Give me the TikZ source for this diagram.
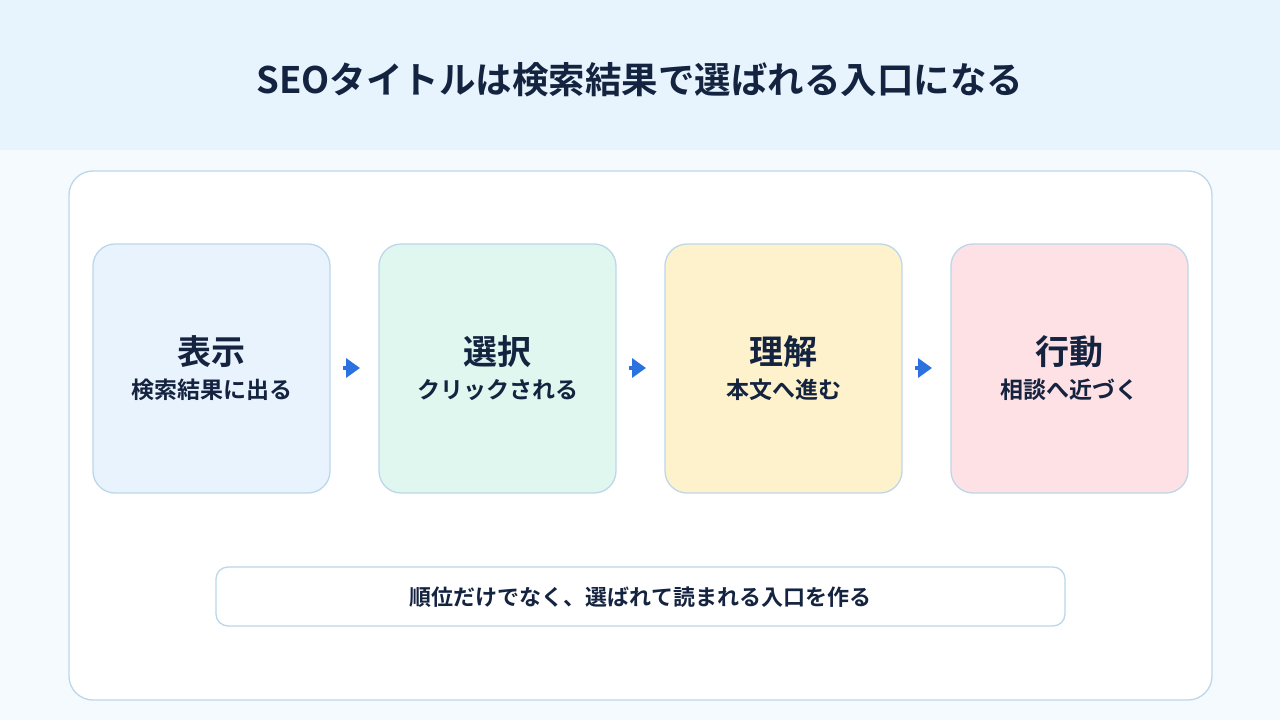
\documentclass[tikz,border=0pt]{standalone}
\usepackage{fontspec}
\setmainfont{Noto Sans CJK JP}[BoldFont={Noto Sans CJK JP Bold}]
\usetikzlibrary{arrows.meta}
\definecolor{headbg}{HTML}{E8F4FD}
\definecolor{pagebg}{HTML}{F5FAFE}
\definecolor{edge}{HTML}{BCD7EA}
\definecolor{ink}{HTML}{14233F}
\definecolor{cblue}{HTML}{E8F3FD}
\definecolor{cgreen}{HTML}{E0F7EF}
\definecolor{cyellow}{HTML}{FEF2CC}
\definecolor{cpink}{HTML}{FEE1E4}
\definecolor{arrowblue}{HTML}{2B72E0}
\tikzset{
  card/.style={draw=edge, line width=1.3pt, rounded corners=22pt, minimum width=237pt, minimum height=249pt, inner sep=0pt},
  cardtitle/.style={text=ink, font=\bfseries\fontsize{34}{40}\selectfont, inner sep=0pt},
  cardsub/.style={text=ink, font=\bfseries\fontsize{23}{28}\selectfont, inner sep=0pt},
  flow/.style={-{Triangle[length=14pt,width=19pt]}, arrowblue, line width=4pt}
}
\begin{document}
\begin{tikzpicture}[x=1pt,y=-1pt]
\useasboundingbox (0,0) rectangle (1280,720);
\fill[pagebg] (0,0) rectangle (1280,720);
\fill[headbg] (0,0) rectangle (1280,150);
\node[text=ink, font=\bfseries\fontsize{36.5}{42}\selectfont, inner sep=0pt] (title) at (640,80) {SEOタイトルは検索結果で選ばれる入口になる};
\draw[edge, fill=white, line width=1.3pt, rounded corners=24pt] (69,171) rectangle (1212,700);
\node[card, fill=cblue] (c1) at (211.5,368.5) {};
\node[card, fill=cgreen] (c2) at (497.5,368.5) {};
\node[card, fill=cyellow] (c3) at (783.5,368.5) {};
\node[card, fill=cpink] (c4) at (1069.5,368.5) {};
\node[cardtitle] (t1) at (211.5,352) {表示};
\node[cardsub] (s1) at (211.5,390) {検索結果に出る};
\node[cardtitle] (t2) at (497.5,352) {選択};
\node[cardsub] (s2) at (497.5,390) {クリックされる};
\node[cardtitle] (t3) at (783.5,352) {理解};
\node[cardsub] (s3) at (783.5,390) {本文へ進む};
\node[cardtitle] (t4) at (1069.5,352) {行動};
\node[cardsub] (s4) at (1069.5,390) {相談へ近づく};
\coordinate (a1s) at (343,368);
\coordinate (a1e) at (360,368);
\coordinate (a2s) at (629,368);
\coordinate (a2e) at (646,368);
\coordinate (a3s) at (915,368);
\coordinate (a3e) at (932,368);
\draw[flow] (a1s) -- (a1e);
\draw[flow] (a2s) -- (a2e);
\draw[flow] (a3s) -- (a3e);
\node[draw=edge, fill=white, line width=1.3pt, rounded corners=12pt, minimum width=849pt, minimum height=59pt, inner sep=0pt] (note) at (640.5,596.5) {};
\node[text=ink, font=\bfseries\fontsize{22}{26}\selectfont, inner sep=0pt] (notetext) at (640.5,597) {順位だけでなく、選ばれて読まれる入口を作る};
\end{tikzpicture}
\end{document}
